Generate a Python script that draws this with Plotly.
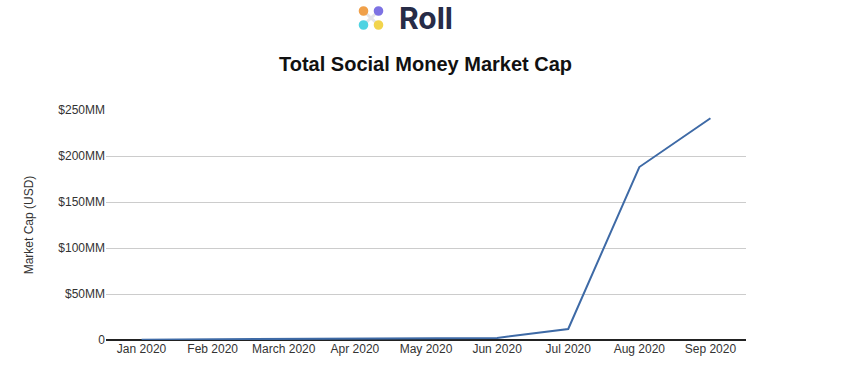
import plotly.graph_objects as go

months = ["Jan 2020", "Feb 2020", "March 2020", "Apr 2020", "May 2020",
          "Jun 2020", "Jul 2020", "Aug 2020", "Sep 2020"]
market_cap_mm = [0.4, 0.8, 1.0, 1.2, 1.6, 2.2, 12.0, 188.0, 241.0]
ytick_vals = [0, 50, 100, 150, 200, 250]
ytick_text = ["0", "$50MM", "$100MM", "$150MM", "$200MM", "$250MM"]

W, H = 863, 380
L, R, T, B = 106, 117, 110, 40
pw, ph = W - L - R, H - T - B

def px(x):
    return (x - L) / pw

def py(y):
    return (H - B - y) / ph

fig = go.Figure()
fig.add_trace(go.Scatter(
    x=months, y=market_cap_mm, mode="lines",
    line=dict(color="#3e6aa6", width=2),
    hoverinfo="x+y", showlegend=False,
))

shapes = []
dots = [(363.5, 11, "#f0a04a"), (378.5, 11, "#7d72e3"),
        (363.5, 25, "#4fd3e2"), (378.5, 25, "#f2d44c")]
shapes.append(dict(type="line", xref="paper", yref="paper",
                   x0=px(363.5), y0=py(11), x1=px(378.5), y1=py(25),
                   line=dict(color="#e4e4e8", width=3), layer="below"))
shapes.append(dict(type="line", xref="paper", yref="paper",
                   x0=px(378.5), y0=py(11), x1=px(363.5), y1=py(25),
                   line=dict(color="#e4e4e8", width=3), layer="below"))
r = 4.8
for cx, cy, c in dots:
    shapes.append(dict(type="circle", xref="paper", yref="paper",
                       x0=px(cx - r), x1=px(cx + r), y0=py(cy + r), y1=py(cy - r),
                       fillcolor=c, line=dict(width=0)))

annotations = [
    dict(text="<b>Roll</b>", xref="paper", yref="paper", x=px(426), y=py(18),
         xanchor="center", yanchor="middle", showarrow=False,
         font=dict(family="Inter, Arial", size=30, color="#272c47")),
    dict(text="<b>Total Social Money Market Cap</b>", xref="paper", yref="paper",
         x=px(425), y=py(64), xanchor="center", yanchor="middle", showarrow=False,
         font=dict(family="Liberation Sans, Arial", size=20, color="#111111")),
]

fig.update_layout(
    width=W, height=H, autosize=False,
    margin=dict(l=L, r=R, t=T, b=B),
    paper_bgcolor="white", plot_bgcolor="white",
    shapes=shapes, annotations=annotations,
    font=dict(family="Liberation Sans, Arial", color="#444444", size=12),
    xaxis=dict(
        type="category", range=[-0.5, len(months) - 0.5],
        showgrid=False, ticks="",
        tickfont=dict(size=12, color="#333333"),
        showline=False, zeroline=False, fixedrange=True,
    ),
    yaxis=dict(
        range=[0, 250], tickvals=ytick_vals, ticktext=ytick_text,
        showgrid=True, gridcolor="#cccccc", gridwidth=1,
        zeroline=True, zerolinecolor="#222222", zerolinewidth=1.5,
        tickfont=dict(size=12, color="#333333"), ticks="",
        title=dict(text="Market Cap (USD)", font=dict(size=12, color="#333333"),
                   standoff=22),
        fixedrange=True,
    ),
)

fig.write_html("out.html",
               config={"displayModeBar": False},
               post_script="document.body.style.margin='0';document.body.style.overflow='hidden';")
